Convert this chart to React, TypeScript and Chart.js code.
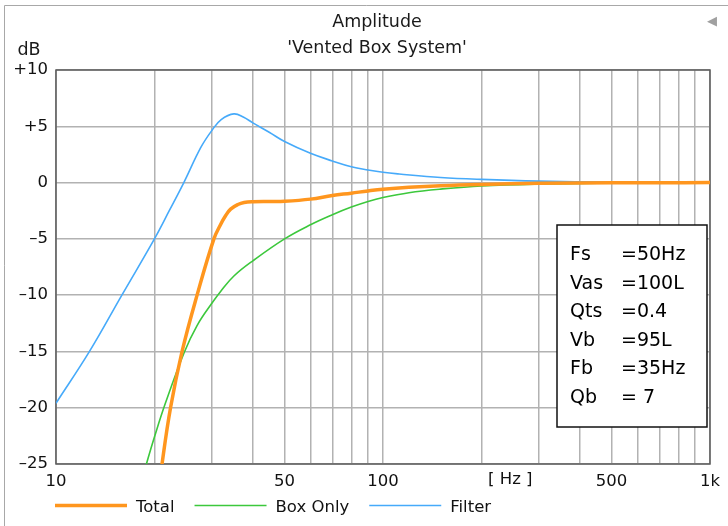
import React, { useEffect, useRef } from 'react';
import { Chart, registerables } from 'chart.js';

Chart.register(...registerables);

const FONT = '"DejaVu Sans", "Noto Sans", sans-serif';

// Series (frequency in Hz, level in dB)
const totalFreq = [20, 21.1, 22.4, 24.3, 27, 30.4, 31.9, 33, 34.2, 36, 37.6, 40, 45, 50, 60, 70, 80, 90, 100, 120, 150, 200, 300, 500, 700, 1000];
const totalDb = [-30.3, -25, -20, -15, -10, -5, -3.7, -2.95, -2.36, -1.95, -1.77, -1.7, -1.68, -1.66, -1.47, -1.15, -0.94, -0.74, -0.59, -0.42, -0.28, -0.17, -0.07, -0.02, -0.01, 0];

const boxFreq = [18, 18.9, 20, 21.6, 24.7, 27, 30, 32, 35, 40, 50, 60, 70, 80, 90, 100, 120, 150, 200, 300, 500, 700, 1000];
const boxDb = [-27.2, -25, -22.6, -19.6, -15.05, -12.7, -10.7, -9.6, -8.3, -6.95, -5, -3.75, -2.86, -2.18, -1.68, -1.33, -0.9, -0.58, -0.3, -0.13, -0.04, -0.02, 0];

const filterFreq = [10, 12.66, 15.9, 20, 22.2, 24.6, 27.7, 30, 32, 35, 37.5, 40, 45, 50, 60, 70, 80, 90, 100, 112, 150, 200, 300, 500, 700, 1000];
const filterDb = [-19.6, -15, -10, -5, -2.5, 0, 3.1, 4.65, 5.6, 6.1, 5.8, 5.3, 4.45, 3.65, 2.6, 1.92, 1.41, 1.12, 0.91, 0.76, 0.45, 0.28, 0.13, 0.04, 0.02, 0];

const seriesLabels = ['Total', 'Box Only', 'Filter'];

// Axes
const xGridValues = [10, 20, 30, 40, 50, 60, 70, 80, 90, 100, 200, 300, 400, 500, 600, 700, 800, 900, 1000];
const xTickValues = [10, 50, 100, 500, 1000];
const xTickLabels = ['10', '50', '100', '500', '1k'];
const xUnitLabel = '[ Hz ]';
const xUnitAt = 245;

const titleText = 'Amplitude';
const subtitleText = "'Vented Box System'";
const yUnitText = 'dB';

// Parameter box
const infoLabels = ['Fs', 'Vas', 'Qts', 'Vb', 'Fb', 'Qb'];
const infoValues = ['=50Hz', '=100L', '=0.4', '=95L', '=35Hz', '= 7'];

const ORANGE = 'rgb(255,150,30)';
const GREEN = 'rgb(60,200,60)';
const BLUE = 'rgb(70,170,250)';
const GRID = '#b2b2b2';

const toPoints = (fs: number[], vs: number[]) => fs.map((f, i) => ({ x: f, y: vs[i] }));

const decor = {
  id: 'decor',
  beforeDatasetsDraw(chart: any) {
    const { ctx, chartArea } = chart;
    ctx.save();
    ctx.strokeStyle = '#5c5c5c';
    ctx.lineWidth = 1.5;
    ctx.strokeRect(chartArea.left, chartArea.top, chartArea.right - chartArea.left, chartArea.bottom - chartArea.top);
    ctx.restore();
  },
  afterDatasetsDraw(chart: any) {
    const { ctx } = chart;
    ctx.save();
    // parameter box
    ctx.fillStyle = '#fff';
    ctx.fillRect(557, 225, 150, 202);
    ctx.strokeStyle = '#111';
    ctx.lineWidth = 1.5;
    ctx.strokeRect(557, 225, 150, 202);
    ctx.fillStyle = '#000';
    ctx.font = `19px ${FONT}`;
    ctx.textBaseline = 'alphabetic';
    ctx.textAlign = 'left';
    infoLabels.forEach((l, i) => {
      const y = 260 + i * 28.5;
      ctx.fillText(l, 570, y);
      ctx.fillText(infoValues[i], 621, y);
    });
    ctx.restore();
  },
  afterDraw(chart: any) {
    const { ctx, scales } = chart;
    ctx.save();
    // outer frame
    ctx.strokeStyle = '#a8a8a8';
    ctx.lineWidth = 1;
    ctx.beginPath();
    ctx.moveTo(4.5, 526);
    ctx.lineTo(4.5, 5.5);
    ctx.lineTo(728, 5.5);
    ctx.stroke();

    // titles
    ctx.fillStyle = '#1a1a1a';
    ctx.textAlign = 'center';
    ctx.textBaseline = 'alphabetic';
    ctx.font = `17.5px ${FONT}`;
    ctx.fillText(titleText, 377, 26.5);
    ctx.fillText(subtitleText, 377, 53);
    ctx.fillText(yUnitText, 29, 55);

    ctx.fillStyle = '#a0a0a0';
    ctx.font = `13px ${FONT}`;
    ctx.fillText('◀', 712, 25);

    // x unit label
    ctx.fillStyle = '#111';
    ctx.font = `16.5px ${FONT}`;
    ctx.textBaseline = 'top';
    ctx.fillText(xUnitLabel, scales.x.getPixelForValue(xUnitAt), 471.5);

    // legend
    const ds = chart.data.datasets;
    let x = 55;
    const ly = 505.5;
    ctx.textAlign = 'left';
    ctx.textBaseline = 'alphabetic';
    ds.forEach((d: any) => {
      ctx.strokeStyle = d.borderColor;
      ctx.lineWidth = d.label === 'Total' ? 3.5 : 1.6;
      ctx.beginPath();
      ctx.moveTo(x, ly);
      ctx.lineTo(x + 72, ly);
      ctx.stroke();
      ctx.fillStyle = '#111';
      ctx.fillText(d.label, x + 81, 511.5);
      x += 81 + ctx.measureText(d.label).width + 20;
    });
    ctx.restore();
  },
};

export default function App() {
  const ref = useRef<HTMLCanvasElement>(null);
  useEffect(() => {
    const canvas = ref.current;
    if (!canvas) return;
    const chart = new Chart(canvas, {
      type: 'line',
      data: {
        datasets: [
          { label: seriesLabels[0], data: toPoints(totalFreq, totalDb), borderColor: ORANGE, borderWidth: 3.5, pointRadius: 0, tension: 0.4 },
          { label: seriesLabels[1], data: toPoints(boxFreq, boxDb), borderColor: GREEN, borderWidth: 1.6, pointRadius: 0, tension: 0.4 },
          { label: seriesLabels[2], data: toPoints(filterFreq, filterDb), borderColor: BLUE, borderWidth: 1.6, pointRadius: 0, tension: 0.4 },
        ] as any,
      },
      options: {
        responsive: false,
        animation: false,
        layout: { padding: { left: 0, right: 18, top: 70, bottom: 0 } },
        scales: {
          x: {
            type: 'logarithmic',
            min: 10,
            max: 1000,
            afterBuildTicks: (s: any) => {
              s.ticks = xGridValues.map((v) => ({ value: v }));
            },
            afterFit: (s: any) => {
              s.height = 62;
            },
            ticks: {
              autoSkip: false,
              maxRotation: 0,
              padding: 7.5,
              color: '#111',
              font: { family: FONT, size: 16.5 },
              callback: (v: any) => {
                const i = xTickValues.indexOf(Number(v));
                return i >= 0 ? xTickLabels[i] : '';
              },
            },
            grid: { color: GRID, lineWidth: 1.5, drawTicks: false },
            border: { display: false },
          },
          y: {
            type: 'linear',
            min: -25,
            max: 10,
            afterFit: (s: any) => {
              s.width = 56;
            },
            ticks: {
              stepSize: 5,
              padding: 8,
              color: '#111',
              font: { family: FONT, size: 16.5 },
              callback: (v: any) => (v > 0 ? `+${v}` : v < 0 ? `–${-v}` : '0'),
            },
            grid: { color: GRID, lineWidth: 1.5, drawTicks: false },
            border: { display: false },
          },
        },
        plugins: { legend: { display: false }, tooltip: { enabled: false }, title: { display: false } },
      } as any,
      plugins: [decor],
    });
    return () => chart.destroy();
  }, []);
  return (
    <div style={{ position: 'absolute', left: 0, top: 0, width: 728, height: 526, background: '#fff' }}>
      <canvas ref={ref} width={728} height={526} style={{ display: 'block', width: 728, height: 526 }} />
    </div>
  );
}
